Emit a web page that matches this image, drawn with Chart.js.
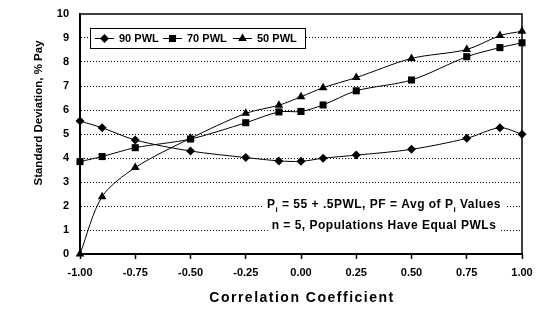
<!DOCTYPE html>
<html>
<head>
<meta charset="utf-8">
<script src="https://cdn.jsdelivr.net/npm/chart.js@4/dist/chart.umd.min.js"></script>
<style>
html,body{margin:0;padding:0;background:#fff;}
#wrap{width:550px;height:321px;position:relative;}
</style>
</head>
<body>
<div id="wrap"><canvas id="c" width="550" height="321"></canvas></div>
<script>
const correlation = [-1, -0.9, -0.75, -0.5, -0.25, -0.1, 0, 0.1, 0.25, 0.5, 0.75, 0.9, 1];
const pwl90 = [5.54, 5.26, 4.75, 4.29, 4.02, 3.88, 3.86, 3.99, 4.12, 4.36, 4.82, 5.26, 4.99];
const pwl70 = [3.85, 4.06, 4.43, 4.79, 5.47, 5.92, 5.94, 6.21, 6.8, 7.25, 8.22, 8.6, 8.8];
const pwl50 = [0, 2.39, 3.6, 4.82, 5.86, 6.2, 6.55, 6.93, 7.35, 8.15, 8.52, 9.1, 9.28];
const seriesNames = ['90 PWL', '70 PWL', '50 PWL'];
const xTitle = 'Correlation Coefficient';
const yTitle = 'Standard Deviation, % Pay';
const noteLine1 = [['P', false], ['i', true], [' = 55 + .5PWL, PF = Avg of P', false], ['i', true], [' Values', false]];
const noteLine2 = [['n = 5, Populations Have Equal PWLs', false]];

const FONT = "'Liberation Sans', Arial, sans-serif";
const styles = [
  {pointStyle: 'rectRot', radius: 4.5},
  {pointStyle: 'rect', radius: 5},
  {pointStyle: 'triangle', radius: 5}
];
const values = [pwl90, pwl70, pwl50];

const datasets = values.map((arr, i) => ({
  label: seriesNames[i],
  data: correlation.map((x, j) => ({x: x, y: arr[j]})),
  borderColor: '#000',
  backgroundColor: '#000',
  borderWidth: 1,
  pointStyle: styles[i].pointStyle,
  pointRadius: styles[i].radius,
  pointBorderWidth: 0,
  pointBackgroundColor: '#000',
  tension: 0.3,
  clip: false
}));

function drawSegments(ctx, segs, cx, cy, size) {
  ctx.save();
  ctx.letterSpacing = '0.5px';
  const mainFont = 'bold ' + size + 'px ' + FONT;
  const subFont = 'bold ' + Math.round(size * 0.65) + 'px ' + FONT;
  let total = 0;
  const widths = segs.map(s => { ctx.font = s[1] ? subFont : mainFont; const w = ctx.measureText(s[0]).width; total += w; return w; });
  let x = cx - total / 2;
  ctx.fillStyle = '#fff';
  ctx.fillRect(x - 4, cy - size / 2 - 3, total + 8, size + 6);
  ctx.fillStyle = '#000';
  ctx.textBaseline = 'middle';
  ctx.textAlign = 'left';
  segs.forEach((s, i) => {
    ctx.font = s[1] ? subFont : mainFont;
    ctx.fillText(s[0], x, s[1] ? cy + 4.5 : cy);
    x += widths[i];
  });
  ctx.restore();
}

const overlay = {
  id: 'overlay',
  beforeDatasetsDraw(chart) {
    const ctx = chart.ctx, a = chart.chartArea;
    ctx.save();
    ctx.strokeStyle = '#000';
    ctx.lineWidth = 1.5;
    ctx.strokeRect(a.left, a.top, a.right - a.left, a.bottom - a.top);
    ctx.lineWidth = 2;
    ctx.beginPath();
    ctx.moveTo(a.left, a.top); ctx.lineTo(a.left, a.bottom); ctx.lineTo(a.right, a.bottom);
    ctx.stroke();
    ctx.restore();
  },
  afterDatasetsDraw(chart) {
    const ctx = chart.ctx, a = chart.chartArea;
    const lx = a.left + 10, ly = a.top + 14, lw = 215, lh = 20;
    ctx.save();
    ctx.fillStyle = '#fff';
    ctx.fillRect(lx, ly, lw, lh);
    ctx.strokeStyle = '#000';
    ctx.lineWidth = 1;
    ctx.strokeRect(lx + 0.5, ly + 0.5, lw, lh);
    const cy = ly + lh / 2 + 0.5;
    const entryX = [lx + 5, lx + 73, lx + 143];
    ctx.font = 'bold 11px ' + FONT;
    ctx.textBaseline = 'middle';
    ctx.fillStyle = '#000';
    seriesNames.forEach((name, i) => {
      const x0 = entryX[i];
      ctx.beginPath();
      ctx.moveTo(x0, cy); ctx.lineTo(x0 + 19, cy);
      ctx.lineWidth = 1; ctx.strokeStyle = '#000'; ctx.stroke();
      ctx.fillStyle = '#000';
      Chart.helpers.drawPoint(ctx, {pointStyle: styles[i].pointStyle, radius: styles[i].radius, rotation: 0, borderWidth: 0}, x0 + 9.5, cy);
      ctx.fillStyle = '#000';
      ctx.fillText(name, x0 + 24, cy);
    });
    ctx.restore();
    const cx = 384;
    drawSegments(ctx, noteLine1, cx, chart.scales.y.getPixelForValue(2) - 1, 12);
    drawSegments(ctx, noteLine2, cx, chart.scales.y.getPixelForValue(1) - 4, 12);
  },
  afterDraw(chart) {
    const ctx = chart.ctx, a = chart.chartArea;
    ctx.save();
    ctx.fillStyle = '#000';
    ctx.textAlign = 'center';
    ctx.textBaseline = 'middle';
    ctx.font = 'bold 14px ' + FONT;
    ctx.letterSpacing = '1.5px';
    ctx.fillText(xTitle, (a.left + a.right) / 2 + 1, 298);
    ctx.restore();
    ctx.save();
    ctx.fillStyle = '#000';
    ctx.textAlign = 'center';
    ctx.textBaseline = 'middle';
    ctx.font = 'bold 11.5px ' + FONT;
    ctx.translate(39, 113);
    ctx.rotate(-Math.PI / 2);
    ctx.fillText(yTitle, 0, 0);
    ctx.restore();
  }
};

new Chart(document.getElementById('c'), {
  type: 'line',
  data: {datasets: datasets},
  options: {
    responsive: false,
    animation: false,
    devicePixelRatio: 1,
    layout: {padding: {left: 0, right: 28, top: 14, bottom: 0}},
    plugins: {legend: {display: false}, tooltip: {enabled: false}, title: {display: false}},
    scales: {
      x: {
        type: 'linear', min: -1, max: 1,
        ticks: {stepSize: 0.25, callback: v => v.toFixed(2), color: '#000', font: {family: FONT, size: 11, weight: 'bold'}, padding: 7, maxRotation: 0},
        grid: {drawOnChartArea: false, drawTicks: true, tickLength: 5, color: '#000', tickWidth: 1.5},
        border: {color: '#000', width: 2},
        afterFit: s => { s.height = 67; }
      },
      y: {
        min: 0, max: 10,
        ticks: {stepSize: 1, color: '#000', font: {family: FONT, size: 11, weight: 'bold'}, padding: 11},
        grid: {drawTicks: false, color: c => (c.tick && c.tick.value > 0 && c.tick.value < 10) ? '#000' : 'rgba(0,0,0,0)', lineWidth: 1},
        border: {color: '#000', width: 2, dash: [1, 2]},
        afterFit: s => { s.width = 80; s.paddingTop = 0; s.paddingBottom = 0; }
      }
    }
  },
  plugins: [overlay]
});
</script>
</body>
</html>
